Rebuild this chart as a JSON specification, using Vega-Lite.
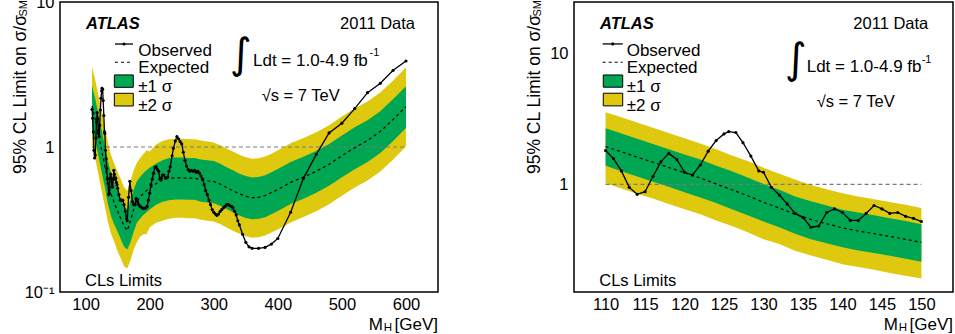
{
  "$schema": "https://vega.github.io/schema/vega-lite/v6.json",
  "padding": {"left": 11, "top": -7, "right": 0, "bottom": 0},
  "bounds": "flush",
  "spacing": 136,
  "config": {
    "view": {"stroke": "black", "strokeWidth": 1.5},
    "axis": {"grid": false, "domain": false, "labelFont": "Liberation Sans", "labelFontSize": 16.5, "labelColor": "black", "tickColor": "black", "tickWidth": 1, "labelOverlap": false, "title": null, "tickSize": 0},
    "text": {"font": "Liberation Sans", "color": "black"}
  },
  "datasets": {
    "bandL": [
      {"m": 110, "lo2": 1.02, "lo1": 1.36, "exp": 1.92, "up1": 2.65, "up2": 3.57},
      {"m": 115, "lo2": 0.83, "lo1": 1.11, "exp": 1.56, "up1": 2.15, "up2": 2.90},
      {"m": 120, "lo2": 0.65, "lo1": 0.87, "exp": 1.22, "up1": 1.68, "up2": 2.27},
      {"m": 125, "lo2": 0.50, "lo1": 0.67, "exp": 0.95, "up1": 1.31, "up2": 1.77},
      {"m": 130, "lo2": 0.39, "lo1": 0.53, "exp": 0.74, "up1": 1.02, "up2": 1.38},
      {"m": 135, "lo2": 0.30, "lo1": 0.40, "exp": 0.57, "up1": 0.79, "up2": 1.06},
      {"m": 140, "lo2": 0.25, "lo1": 0.33, "exp": 0.47, "up1": 0.65, "up2": 0.87},
      {"m": 145, "lo2": 0.22, "lo1": 0.29, "exp": 0.41, "up1": 0.57, "up2": 0.76},
      {"m": 150, "lo2": 0.19, "lo1": 0.26, "exp": 0.36, "up1": 0.50, "up2": 0.67},
      {"m": 155, "lo2": 0.17, "lo1": 0.23, "exp": 0.32, "up1": 0.44, "up2": 0.60},
      {"m": 160, "lo2": 0.15, "lo1": 0.205, "exp": 0.285, "up1": 0.39, "up2": 0.53},
      {"m": 165, "lo2": 0.145, "lo1": 0.196, "exp": 0.265, "up1": 0.37, "up2": 0.50},
      {"m": 170, "lo2": 0.165, "lo1": 0.22, "exp": 0.31, "up1": 0.43, "up2": 0.58},
      {"m": 175, "lo2": 0.196, "lo1": 0.26, "exp": 0.37, "up1": 0.51, "up2": 0.69},
      {"m": 180, "lo2": 0.22, "lo1": 0.30, "exp": 0.42, "up1": 0.58, "up2": 0.78},
      {"m": 185, "lo2": 0.24, "lo1": 0.32, "exp": 0.45, "up1": 0.62, "up2": 0.84},
      {"m": 190, "lo2": 0.25, "lo1": 0.34, "exp": 0.48, "up1": 0.66, "up2": 0.89},
      {"m": 195, "lo2": 0.25, "lo1": 0.355, "exp": 0.50, "up1": 0.69, "up2": 0.95},
      {"m": 200, "lo2": 0.28, "lo1": 0.37, "exp": 0.52, "up1": 0.72, "up2": 0.93},
      {"m": 210, "lo2": 0.30, "lo1": 0.40, "exp": 0.56, "up1": 0.77, "up2": 1.04},
      {"m": 220, "lo2": 0.31, "lo1": 0.42, "exp": 0.59, "up1": 0.81, "up2": 1.10},
      {"m": 230, "lo2": 0.32, "lo1": 0.43, "exp": 0.61, "up1": 0.84, "up2": 1.13},
      {"m": 240, "lo2": 0.325, "lo1": 0.435, "exp": 0.612, "up1": 0.845, "up2": 1.14},
      {"m": 250, "lo2": 0.325, "lo1": 0.435, "exp": 0.612, "up1": 0.845, "up2": 1.14},
      {"m": 260, "lo2": 0.323, "lo1": 0.433, "exp": 0.61, "up1": 0.84, "up2": 1.13},
      {"m": 270, "lo2": 0.323, "lo1": 0.433, "exp": 0.61, "up1": 0.84, "up2": 1.13},
      {"m": 280, "lo2": 0.315, "lo1": 0.42, "exp": 0.595, "up1": 0.82, "up2": 1.11},
      {"m": 290, "lo2": 0.31, "lo1": 0.415, "exp": 0.585, "up1": 0.81, "up2": 1.09},
      {"m": 300, "lo2": 0.306, "lo1": 0.41, "exp": 0.578, "up1": 0.80, "up2": 1.075},
      {"m": 310, "lo2": 0.294, "lo1": 0.394, "exp": 0.555, "up1": 0.766, "up2": 1.03},
      {"m": 320, "lo2": 0.278, "lo1": 0.373, "exp": 0.525, "up1": 0.725, "up2": 0.976},
      {"m": 330, "lo2": 0.265, "lo1": 0.355, "exp": 0.50, "up1": 0.69, "up2": 0.93},
      {"m": 340, "lo2": 0.252, "lo1": 0.337, "exp": 0.475, "up1": 0.655, "up2": 0.884},
      {"m": 350, "lo2": 0.242, "lo1": 0.324, "exp": 0.457, "up1": 0.63, "up2": 0.85},
      {"m": 360, "lo2": 0.237, "lo1": 0.317, "exp": 0.447, "up1": 0.617, "up2": 0.83},
      {"m": 370, "lo2": 0.239, "lo1": 0.32, "exp": 0.45, "up1": 0.62, "up2": 0.837},
      {"m": 380, "lo2": 0.245, "lo1": 0.328, "exp": 0.462, "up1": 0.638, "up2": 0.86},
      {"m": 390, "lo2": 0.257, "lo1": 0.344, "exp": 0.485, "up1": 0.669, "up2": 0.90},
      {"m": 400, "lo2": 0.27, "lo1": 0.362, "exp": 0.51, "up1": 0.704, "up2": 0.95},
      {"m": 420, "lo2": 0.302, "lo1": 0.405, "exp": 0.57, "up1": 0.787, "up2": 1.06},
      {"m": 440, "lo2": 0.329, "lo1": 0.44, "exp": 0.62, "up1": 0.856, "up2": 1.153},
      {"m": 460, "lo2": 0.36, "lo1": 0.483, "exp": 0.68, "up1": 0.938, "up2": 1.265},
      {"m": 480, "lo2": 0.403, "lo1": 0.54, "exp": 0.76, "up1": 1.05, "up2": 1.41},
      {"m": 500, "lo2": 0.461, "lo1": 0.618, "exp": 0.87, "up1": 1.20, "up2": 1.62},
      {"m": 520, "lo2": 0.525, "lo1": 0.703, "exp": 0.99, "up1": 1.366, "up2": 1.84},
      {"m": 540, "lo2": 0.588, "lo1": 0.788, "exp": 1.11, "up1": 1.53, "up2": 2.06},
      {"m": 560, "lo2": 0.678, "lo1": 0.909, "exp": 1.28, "up1": 1.766, "up2": 2.38},
      {"m": 580, "lo2": 0.82, "lo1": 1.10, "exp": 1.55, "up1": 2.14, "up2": 2.88},
      {"m": 600, "lo2": 1.007, "lo1": 1.35, "exp": 1.90, "up1": 2.62, "up2": 3.53}
    ],
    "obsL": [
      {"m": 110, "v": 1.82}, {"m": 111, "v": 1.58}, {"m": 112, "v": 1.27}, {"m": 113, "v": 0.95}, {"m": 114, "v": 0.84},
      {"m": 115, "v": 0.88}, {"m": 116, "v": 1.15}, {"m": 117, "v": 1.49}, {"m": 118, "v": 1.73}, {"m": 119, "v": 1.56},
      {"m": 120, "v": 1.24}, {"m": 121, "v": 1.18}, {"m": 122, "v": 1.41}, {"m": 123, "v": 1.80}, {"m": 124, "v": 2.17},
      {"m": 125, "v": 2.44}, {"m": 125.6, "v": 2.54}, {"m": 126.5, "v": 2.50}, {"m": 127.4, "v": 2.09}, {"m": 128.4, "v": 1.65},
      {"m": 129.4, "v": 1.27}, {"m": 130, "v": 1.24}, {"m": 131, "v": 0.95}, {"m": 132, "v": 0.83}, {"m": 133, "v": 0.71},
      {"m": 134, "v": 0.60}, {"m": 135, "v": 0.56}, {"m": 136, "v": 0.47}, {"m": 137, "v": 0.48}, {"m": 138, "v": 0.61},
      {"m": 139, "v": 0.65}, {"m": 140, "v": 0.61}, {"m": 141, "v": 0.53}, {"m": 142, "v": 0.53}, {"m": 143, "v": 0.60},
      {"m": 144, "v": 0.69}, {"m": 145, "v": 0.65}, {"m": 146, "v": 0.60}, {"m": 147, "v": 0.61}, {"m": 148, "v": 0.57},
      {"m": 149, "v": 0.55}, {"m": 150, "v": 0.52}, {"m": 152, "v": 0.47}, {"m": 154, "v": 0.43}, {"m": 156, "v": 0.43},
      {"m": 158, "v": 0.43}, {"m": 160, "v": 0.40}, {"m": 162, "v": 0.36}, {"m": 164, "v": 0.32}, {"m": 165, "v": 0.31},
      {"m": 167, "v": 0.45}, {"m": 169, "v": 0.58}, {"m": 171, "v": 0.50}, {"m": 173, "v": 0.42}, {"m": 175, "v": 0.40},
      {"m": 177, "v": 0.40}, {"m": 179, "v": 0.44}, {"m": 181, "v": 0.42}, {"m": 183, "v": 0.40}, {"m": 185, "v": 0.39},
      {"m": 188, "v": 0.38}, {"m": 191, "v": 0.377}, {"m": 194, "v": 0.38}, {"m": 196, "v": 0.39}, {"m": 198, "v": 0.43},
      {"m": 200, "v": 0.48}, {"m": 202, "v": 0.55}, {"m": 204, "v": 0.60}, {"m": 206, "v": 0.66}, {"m": 208, "v": 0.72},
      {"m": 210, "v": 0.73}, {"m": 212, "v": 0.70}, {"m": 214, "v": 0.68}, {"m": 216, "v": 0.60}, {"m": 218, "v": 0.61},
      {"m": 220, "v": 0.64}, {"m": 222, "v": 0.64}, {"m": 225, "v": 0.61}, {"m": 228, "v": 0.62}, {"m": 230, "v": 0.68},
      {"m": 232, "v": 0.73}, {"m": 235, "v": 0.87}, {"m": 237, "v": 0.98}, {"m": 240, "v": 1.10}, {"m": 242.5, "v": 1.18},
      {"m": 245, "v": 1.14}, {"m": 247.5, "v": 1.09}, {"m": 250, "v": 1.05}, {"m": 252.5, "v": 0.92}, {"m": 255, "v": 0.81},
      {"m": 257.5, "v": 0.74}, {"m": 260, "v": 0.70}, {"m": 262.5, "v": 0.68}, {"m": 265, "v": 0.69}, {"m": 267.5, "v": 0.68},
      {"m": 270, "v": 0.69}, {"m": 272.5, "v": 0.67}, {"m": 275, "v": 0.68}, {"m": 277.5, "v": 0.66}, {"m": 280, "v": 0.63},
      {"m": 282.5, "v": 0.60}, {"m": 285, "v": 0.55}, {"m": 287.5, "v": 0.50}, {"m": 290, "v": 0.47}, {"m": 292.5, "v": 0.43},
      {"m": 295, "v": 0.40}, {"m": 297.5, "v": 0.37}, {"m": 300, "v": 0.355}, {"m": 302.5, "v": 0.345}, {"m": 305, "v": 0.338},
      {"m": 307.5, "v": 0.345}, {"m": 310, "v": 0.36}, {"m": 312.5, "v": 0.37}, {"m": 315, "v": 0.38}, {"m": 317.5, "v": 0.39},
      {"m": 320, "v": 0.40}, {"m": 322.5, "v": 0.40}, {"m": 325, "v": 0.395}, {"m": 327.5, "v": 0.39}, {"m": 330, "v": 0.38},
      {"m": 332.5, "v": 0.36}, {"m": 335, "v": 0.34}, {"m": 337.5, "v": 0.31}, {"m": 340, "v": 0.29}, {"m": 345, "v": 0.25},
      {"m": 350, "v": 0.22}, {"m": 355, "v": 0.205}, {"m": 360, "v": 0.20}, {"m": 370, "v": 0.20}, {"m": 380, "v": 0.203},
      {"m": 390, "v": 0.214}, {"m": 400, "v": 0.234}, {"m": 420, "v": 0.355}, {"m": 440, "v": 0.608}, {"m": 460, "v": 0.89},
      {"m": 480, "v": 1.25}, {"m": 500, "v": 1.46}, {"m": 520, "v": 1.84}, {"m": 540, "v": 2.37}, {"m": 560, "v": 2.75},
      {"m": 580, "v": 3.38}, {"m": 600, "v": 3.92}
    ],
    "bandR": [
      {"m": 110, "lo2": 1.02, "lo1": 1.39, "exp": 1.95, "up1": 2.70, "up2": 3.58},
      {"m": 112, "lo2": 0.93, "lo1": 1.26, "exp": 1.78, "up1": 2.46, "up2": 3.27},
      {"m": 114, "lo2": 0.85, "lo1": 1.15, "exp": 1.62, "up1": 2.24, "up2": 2.98},
      {"m": 116, "lo2": 0.78, "lo1": 1.05, "exp": 1.48, "up1": 2.04, "up2": 2.72},
      {"m": 118, "lo2": 0.71, "lo1": 0.96, "exp": 1.35, "up1": 1.86, "up2": 2.48},
      {"m": 120, "lo2": 0.645, "lo1": 0.87, "exp": 1.23, "up1": 1.70, "up2": 2.26},
      {"m": 122, "lo2": 0.59, "lo1": 0.795, "exp": 1.12, "up1": 1.55, "up2": 2.06},
      {"m": 124, "lo2": 0.53, "lo1": 0.72, "exp": 1.01, "up1": 1.39, "up2": 1.86},
      {"m": 126, "lo2": 0.48, "lo1": 0.645, "exp": 0.91, "up1": 1.26, "up2": 1.67},
      {"m": 128, "lo2": 0.43, "lo1": 0.58, "exp": 0.82, "up1": 1.13, "up2": 1.51},
      {"m": 130, "lo2": 0.38, "lo1": 0.52, "exp": 0.73, "up1": 1.01, "up2": 1.34},
      {"m": 132, "lo2": 0.35, "lo1": 0.47, "exp": 0.66, "up1": 0.91, "up2": 1.21},
      {"m": 134, "lo2": 0.31, "lo1": 0.42, "exp": 0.59, "up1": 0.81, "up2": 1.09},
      {"m": 136, "lo2": 0.285, "lo1": 0.38, "exp": 0.54, "up1": 0.745, "up2": 0.99},
      {"m": 138, "lo2": 0.265, "lo1": 0.355, "exp": 0.50, "up1": 0.69, "up2": 0.92},
      {"m": 140, "lo2": 0.245, "lo1": 0.33, "exp": 0.465, "up1": 0.64, "up2": 0.855},
      {"m": 142, "lo2": 0.233, "lo1": 0.312, "exp": 0.44, "up1": 0.61, "up2": 0.81},
      {"m": 144, "lo2": 0.222, "lo1": 0.298, "exp": 0.42, "up1": 0.58, "up2": 0.77},
      {"m": 146, "lo2": 0.21, "lo1": 0.284, "exp": 0.40, "up1": 0.55, "up2": 0.735},
      {"m": 148, "lo2": 0.20, "lo1": 0.27, "exp": 0.38, "up1": 0.525, "up2": 0.70},
      {"m": 150, "lo2": 0.19, "lo1": 0.256, "exp": 0.36, "up1": 0.495, "up2": 0.66}
    ],
    "obsR": [
      {"m": 110, "v": 1.82}, {"m": 111, "v": 1.58}, {"m": 112, "v": 1.27}, {"m": 113, "v": 0.95}, {"m": 114, "v": 0.84},
      {"m": 115, "v": 0.88}, {"m": 116, "v": 1.15}, {"m": 117, "v": 1.49}, {"m": 118, "v": 1.73}, {"m": 119, "v": 1.56},
      {"m": 120, "v": 1.24}, {"m": 121, "v": 1.18}, {"m": 122, "v": 1.41}, {"m": 123, "v": 1.80}, {"m": 124, "v": 2.17},
      {"m": 125, "v": 2.44}, {"m": 125.6, "v": 2.54}, {"m": 126.5, "v": 2.50}, {"m": 127.4, "v": 2.09}, {"m": 128.4, "v": 1.65},
      {"m": 129.4, "v": 1.27}, {"m": 130, "v": 1.24}, {"m": 131, "v": 0.95}, {"m": 132, "v": 0.83}, {"m": 133, "v": 0.71},
      {"m": 134, "v": 0.60}, {"m": 135, "v": 0.56}, {"m": 136, "v": 0.47}, {"m": 137, "v": 0.48}, {"m": 138, "v": 0.61},
      {"m": 139, "v": 0.65}, {"m": 140, "v": 0.61}, {"m": 141, "v": 0.53}, {"m": 142, "v": 0.53}, {"m": 143, "v": 0.60},
      {"m": 144, "v": 0.69}, {"m": 145, "v": 0.65}, {"m": 146, "v": 0.60}, {"m": 147, "v": 0.61}, {"m": 148, "v": 0.57},
      {"m": 149, "v": 0.55}, {"m": 150, "v": 0.52}
    ]
  },
  "hconcat": [
    {
      "width": 378,
      "height": 290,
      "data": {"values": [{}]},
      "resolve": {"axis": {"x": "independent", "y": "independent"}},
      "layer": [
        {
          "data": {"name": "bandL"},
          "mark": {"type": "area", "color": "#dec90f"},
          "encoding": {
            "x": {"field": "m", "type": "quantitative", "scale": {"domain": [60, 650], "nice": false, "zero": false},
              "axis": {"orient": "bottom", "values": [60,80,100,120,140,160,180,200,220,240,260,280,300,320,340,360,380,400,420,440,460,480,500,520,540,560,580,600,620,640],
                "labelExpr": "datum.value % 100 === 0 ? datum.label : ''",
                "labelPadding": 4,
                "encode": {"ticks": {"update": {"y2": {"signal": "datum.value % 100 === 0 ? -9 : -4.5"}}}}}},
            "y": {"field": "lo2", "type": "quantitative", "scale": {"type": "log", "domain": [0.1, 10], "nice": false},
              "axis": {"orient": "left", "values": [0.1,0.2,0.3,0.4,0.5,0.6,0.7,0.8,0.9,1,2,3,4,5,6,7,8,9,10],
                "labelExpr": "datum.value === 0.1 ? '10⁻¹' : datum.value === 1 ? '1' : datum.value === 10 ? '10' : ''",
                "labelPadding": 6,
                "encode": {"ticks": {"update": {"x2": {"signal": "(datum.value === 0.1 || datum.value === 1 || datum.value === 10) ? 12 : 6.5"}}}}}},
            "y2": {"field": "up2"}
          }
        },
        {
          "data": {"name": "bandL"},
          "mark": {"type": "area", "color": "#00a651"},
          "encoding": {
            "x": {"field": "m", "type": "quantitative",
              "axis": {"orient": "top", "labels": false, "values": [60,80,100,120,140,160,180,200,220,240,260,280,300,320,340,360,380,400,420,440,460,480,500,520,540,560,580,600,620,640],
                "encode": {"ticks": {"update": {"y2": {"signal": "datum.value % 100 === 0 ? 9 : 4.5"}}}}}},
            "y": {"field": "lo1", "type": "quantitative",
              "axis": {"orient": "right", "labels": false, "values": [0.1,0.2,0.3,0.4,0.5,0.6,0.7,0.8,0.9,1,2,3,4,5,6,7,8,9,10],
                "encode": {"ticks": {"update": {"x2": {"signal": "(datum.value === 0.1 || datum.value === 1 || datum.value === 10) ? -12 : -6.5"}}}}}},
            "y2": {"field": "up1"}
          }
        },
        {
          "mark": {"type": "rule", "color": "#7a7a7a", "strokeDash": [4, 3], "strokeWidth": 1.2},
          "encoding": {"x": {"datum": 110, "type": "quantitative", "axis": null}, "x2": {"datum": 600}, "y": {"datum": 1, "type": "quantitative", "axis": null}}
        },
        {
          "data": {"name": "bandL"},
          "mark": {"type": "line", "color": "black", "strokeWidth": 1.2, "strokeDash": [3, 3]},
          "encoding": {"x": {"field": "m", "type": "quantitative", "axis": null}, "y": {"field": "exp", "type": "quantitative", "axis": null}}
        },
        {
          "data": {"name": "obsL"},
          "mark": {"type": "line", "color": "black", "strokeWidth": 1.3, "point": {"filled": true, "size": 10, "color": "black"}},
          "encoding": {"x": {"field": "m", "type": "quantitative", "axis": null}, "y": {"field": "v", "type": "quantitative", "axis": null}}
        },
        {
          "mark": {"type": "text", "text": "ATLAS", "align": "left", "fontSize": 16.5, "fontStyle": "italic", "fontWeight": "bold"},
          "encoding": {"x": {"datum": 100.6, "type": "quantitative", "axis": null}, "y": {"datum": 7.05, "type": "quantitative", "axis": null}}
        },
        {
          "mark": {"type": "text", "text": "2011 Data", "align": "right", "fontSize": 16.5},
          "encoding": {"x": {"datum": 614.1, "type": "quantitative", "axis": null}, "y": {"datum": 7.05, "type": "quantitative", "axis": null}}
        },
        {
          "mark": {"type": "rule", "color": "black", "strokeWidth": 1.3},
          "encoding": {"x": {"datum": 145.8, "type": "quantitative", "axis": null}, "x2": {"datum": 173.9}, "y": {"datum": 5.13, "type": "quantitative", "axis": null}}
        },
        {
          "mark": {"type": "point", "filled": true, "size": 10, "color": "black", "opacity": 1},
          "encoding": {"x": {"datum": 159.9, "type": "quantitative", "axis": null}, "y": {"datum": 5.13, "type": "quantitative", "axis": null}}
        },
        {
          "mark": {"type": "text", "text": "Observed", "align": "left", "fontSize": 17},
          "encoding": {"x": {"datum": 182.2, "type": "quantitative", "axis": null}, "y": {"datum": 4.62, "type": "quantitative", "axis": null}}
        },
        {
          "mark": {"type": "rule", "color": "black", "strokeWidth": 1.2, "strokeDash": [3, 3]},
          "encoding": {"x": {"datum": 145.8, "type": "quantitative", "axis": null}, "x2": {"datum": 173.9}, "y": {"datum": 3.84, "type": "quantitative", "axis": null}}
        },
        {
          "mark": {"type": "text", "text": "Expected", "align": "left", "fontSize": 17},
          "encoding": {"x": {"datum": 182.2, "type": "quantitative", "axis": null}, "y": {"datum": 3.49, "type": "quantitative", "axis": null}}
        },
        {
          "mark": {"type": "rect", "fill": "#00a651", "stroke": "black", "strokeWidth": 1},
          "encoding": {"x": {"datum": 144.8, "type": "quantitative", "axis": null}, "x2": {"datum": 174.4}, "y": {"datum": 2.58, "type": "quantitative", "axis": null}, "y2": {"datum": 3.14}}
        },
        {
          "mark": {"type": "text", "text": "±1 σ", "align": "left", "fontSize": 17},
          "encoding": {"x": {"datum": 182.2, "type": "quantitative", "axis": null}, "y": {"datum": 2.58, "type": "quantitative", "axis": null}}
        },
        {
          "mark": {"type": "rect", "fill": "#dec90f", "stroke": "black", "strokeWidth": 1},
          "encoding": {"x": {"datum": 144.8, "type": "quantitative", "axis": null}, "x2": {"datum": 174.4}, "y": {"datum": 1.918, "type": "quantitative", "axis": null}, "y2": {"datum": 2.346}}
        },
        {
          "mark": {"type": "text", "text": "±2 σ", "align": "left", "fontSize": 17},
          "encoding": {"x": {"datum": 182.2, "type": "quantitative", "axis": null}, "y": {"datum": 1.93, "type": "quantitative", "axis": null}}
        },
        {
          "mark": {"type": "text", "text": "∫", "align": "center", "fontSize": 42, "font": "DejaVu Sans"},
          "encoding": {"x": {"datum": 342.5, "type": "quantitative", "axis": null}, "y": {"datum": 4.34, "type": "quantitative", "axis": null}}
        },
        {
          "mark": {"type": "text", "text": "Ldt = 1.0-4.9 fb", "align": "left", "fontSize": 17},
          "encoding": {"x": {"datum": 361.2, "type": "quantitative", "axis": null}, "y": {"datum": 3.94, "type": "quantitative", "axis": null}}
        },
        {
          "mark": {"type": "text", "text": "-1", "align": "left", "fontSize": 11},
          "encoding": {"x": {"datum": 543.1, "type": "quantitative", "axis": null}, "y": {"datum": 4.45, "type": "quantitative", "axis": null}}
        },
        {
          "mark": {"type": "text", "text": "√s = 7 TeV", "align": "left", "fontSize": 16.5},
          "encoding": {"x": {"datum": 374.8, "type": "quantitative", "axis": null}, "y": {"datum": 2.247, "type": "quantitative", "axis": null}}
        },
        {
          "mark": {"type": "text", "text": "CLs Limits", "align": "left", "fontSize": 16.5},
          "encoding": {"x": {"datum": 99.0, "type": "quantitative", "axis": null}, "y": {"datum": 0.1197, "type": "quantitative", "axis": null}}
        },
        {
          "mark": {"type": "text", "text": "95% CL Limit on σ/σ", "angle": 270, "align": "right", "fontSize": 17.5, "dx": -13, "dy": -39},
          "encoding": {"x": {"datum": 60, "type": "quantitative", "axis": null}, "y": {"datum": 10, "type": "quantitative", "axis": null}}
        },
        {
          "mark": {"type": "text", "text": "SM", "angle": 270, "align": "right", "fontSize": 11, "dx": 2, "dy": -36},
          "encoding": {"x": {"datum": 60, "type": "quantitative", "axis": null}, "y": {"datum": 10, "type": "quantitative", "axis": null}}
        },
        {
          "mark": {"type": "text", "text": "[GeV]", "align": "right", "fontSize": 17, "dy": 33},
          "encoding": {"x": {"datum": 650, "type": "quantitative", "axis": null}, "y": {"datum": 0.1, "type": "quantitative", "axis": null}}
        },
        {
          "mark": {"type": "text", "text": "H", "align": "right", "fontSize": 11.5, "dx": -46, "dy": 36},
          "encoding": {"x": {"datum": 650, "type": "quantitative", "axis": null}, "y": {"datum": 0.1, "type": "quantitative", "axis": null}}
        },
        {
          "mark": {"type": "text", "text": "M", "align": "right", "fontSize": 17, "dx": -55, "dy": 33},
          "encoding": {"x": {"datum": 650, "type": "quantitative", "axis": null}, "y": {"datum": 0.1, "type": "quantitative", "axis": null}}
        }
      ]
    },
    {
      "width": 379,
      "height": 290,
      "data": {"values": [{}]},
      "resolve": {"axis": {"x": "independent", "y": "independent"}},
      "layer": [
        {
          "data": {"name": "bandR"},
          "mark": {"type": "area", "color": "#dec90f"},
          "encoding": {
            "x": {"field": "m", "type": "quantitative", "scale": {"domain": [106, 154], "nice": false, "zero": false},
              "axis": {"orient": "bottom", "values": [107,108,109,110,111,112,113,114,115,116,117,118,119,120,121,122,123,124,125,126,127,128,129,130,131,132,133,134,135,136,137,138,139,140,141,142,143,144,145,146,147,148,149,150,151,152,153],
                "labelExpr": "datum.value % 5 === 0 ? datum.label : ''",
                "labelPadding": 4,
                "encode": {"ticks": {"update": {"y2": {"signal": "datum.value % 5 === 0 ? -8 : -4"}}}}}},
            "y": {"field": "lo2", "type": "quantitative", "scale": {"type": "log", "domain": [0.15, 25], "nice": false},
              "axis": {"orient": "left", "values": [0.2,0.3,0.4,0.5,0.6,0.7,0.8,0.9,1,2,3,4,5,6,7,8,9,10,20],
                "labelExpr": "datum.value === 1 ? '1' : datum.value === 10 ? '10' : ''",
                "labelPadding": 6,
                "encode": {"ticks": {"update": {"x2": {"signal": "(datum.value === 1 || datum.value === 10) ? 12 : 6.5"}}}}}},
            "y2": {"field": "up2"}
          }
        },
        {
          "data": {"name": "bandR"},
          "mark": {"type": "area", "color": "#00a651"},
          "encoding": {
            "x": {"field": "m", "type": "quantitative",
              "axis": {"orient": "top", "labels": false, "values": [107,108,109,110,111,112,113,114,115,116,117,118,119,120,121,122,123,124,125,126,127,128,129,130,131,132,133,134,135,136,137,138,139,140,141,142,143,144,145,146,147,148,149,150,151,152,153],
                "encode": {"ticks": {"update": {"y2": {"signal": "datum.value % 5 === 0 ? 8 : 4"}}}}}},
            "y": {"field": "lo1", "type": "quantitative",
              "axis": {"orient": "right", "labels": false, "values": [0.2,0.3,0.4,0.5,0.6,0.7,0.8,0.9,1,2,3,4,5,6,7,8,9,10,20],
                "encode": {"ticks": {"update": {"x2": {"signal": "(datum.value === 1 || datum.value === 10) ? -12 : -6.5"}}}}}},
            "y2": {"field": "up1"}
          }
        },
        {
          "mark": {"type": "rule", "color": "#7a7a7a", "strokeDash": [4, 3], "strokeWidth": 1.2},
          "encoding": {"x": {"datum": 110, "type": "quantitative", "axis": null}, "x2": {"datum": 150}, "y": {"datum": 1, "type": "quantitative", "axis": null}}
        },
        {
          "data": {"name": "bandR"},
          "mark": {"type": "line", "color": "black", "strokeWidth": 1.2, "strokeDash": [3, 3]},
          "encoding": {"x": {"field": "m", "type": "quantitative", "axis": null}, "y": {"field": "exp", "type": "quantitative", "axis": null}}
        },
        {
          "data": {"name": "obsR"},
          "mark": {"type": "line", "color": "black", "strokeWidth": 1.3, "point": {"filled": true, "size": 10, "color": "black"}},
          "encoding": {"x": {"field": "m", "type": "quantitative", "axis": null}, "y": {"field": "v", "type": "quantitative", "axis": null}}
        },
        {
          "mark": {"type": "text", "text": "ATLAS", "align": "left", "fontSize": 16.5, "fontStyle": "italic", "fontWeight": "bold"},
          "encoding": {"x": {"datum": 109.29, "type": "quantitative", "axis": null}, "y": {"datum": 16.98, "type": "quantitative", "axis": null}}
        },
        {
          "mark": {"type": "text", "text": "2011 Data", "align": "right", "fontSize": 16.5},
          "encoding": {"x": {"datum": 150.87, "type": "quantitative", "axis": null}, "y": {"datum": 16.98, "type": "quantitative", "axis": null}}
        },
        {
          "mark": {"type": "rule", "color": "black", "strokeWidth": 1.3},
          "encoding": {"x": {"datum": 109.63, "type": "quantitative", "axis": null}, "x2": {"datum": 112.17}, "y": {"datum": 11.93, "type": "quantitative", "axis": null}}
        },
        {
          "mark": {"type": "point", "filled": true, "size": 10, "color": "black", "opacity": 1},
          "encoding": {"x": {"datum": 110.9, "type": "quantitative", "axis": null}, "y": {"datum": 11.93, "type": "quantitative", "axis": null}}
        },
        {
          "mark": {"type": "text", "text": "Observed", "align": "left", "fontSize": 17},
          "encoding": {"x": {"datum": 112.67, "type": "quantitative", "axis": null}, "y": {"datum": 10.6, "type": "quantitative", "axis": null}}
        },
        {
          "mark": {"type": "rule", "color": "black", "strokeWidth": 1.2, "strokeDash": [3, 3]},
          "encoding": {"x": {"datum": 109.63, "type": "quantitative", "axis": null}, "x2": {"datum": 112.17}, "y": {"datum": 8.64, "type": "quantitative", "axis": null}}
        },
        {
          "mark": {"type": "text", "text": "Expected", "align": "left", "fontSize": 17},
          "encoding": {"x": {"datum": 112.67, "type": "quantitative", "axis": null}, "y": {"datum": 7.77, "type": "quantitative", "axis": null}}
        },
        {
          "mark": {"type": "rect", "fill": "#00a651", "stroke": "black", "strokeWidth": 1},
          "encoding": {"x": {"datum": 109.71, "type": "quantitative", "axis": null}, "x2": {"datum": 112.17}, "y": {"datum": 5.56, "type": "quantitative", "axis": null}, "y2": {"datum": 6.9}}
        },
        {
          "mark": {"type": "text", "text": "±1 σ", "align": "left", "fontSize": 17},
          "encoding": {"x": {"datum": 112.67, "type": "quantitative", "axis": null}, "y": {"datum": 5.56, "type": "quantitative", "axis": null}}
        },
        {
          "mark": {"type": "rect", "fill": "#dec90f", "stroke": "black", "strokeWidth": 1},
          "encoding": {"x": {"datum": 109.71, "type": "quantitative", "axis": null}, "x2": {"datum": 112.17}, "y": {"datum": 4.0, "type": "quantitative", "axis": null}, "y2": {"datum": 5.0}}
        },
        {
          "mark": {"type": "text", "text": "±2 σ", "align": "left", "fontSize": 17},
          "encoding": {"x": {"datum": 112.67, "type": "quantitative", "axis": null}, "y": {"datum": 4.02, "type": "quantitative", "axis": null}}
        },
        {
          "mark": {"type": "text", "text": "∫", "align": "center", "fontSize": 42, "font": "DejaVu Sans"},
          "encoding": {"x": {"datum": 134.1, "type": "quantitative", "axis": null}, "y": {"datum": 8.92, "type": "quantitative", "axis": null}}
        },
        {
          "mark": {"type": "text", "text": "Ldt = 1.0-4.9 fb", "align": "left", "fontSize": 17},
          "encoding": {"x": {"datum": 135.47, "type": "quantitative", "axis": null}, "y": {"datum": 7.99, "type": "quantitative", "axis": null}}
        },
        {
          "mark": {"type": "text", "text": "-1", "align": "left", "fontSize": 11},
          "encoding": {"x": {"datum": 150.03, "type": "quantitative", "axis": null}, "y": {"datum": 8.99, "type": "quantitative", "axis": null}}
        },
        {
          "mark": {"type": "text", "text": "√s = 7 TeV", "align": "left", "fontSize": 16.5},
          "encoding": {"x": {"datum": 136.74, "type": "quantitative", "axis": null}, "y": {"datum": 4.31, "type": "quantitative", "axis": null}}
        },
        {
          "mark": {"type": "text", "text": "CLs Limits", "align": "left", "fontSize": 16.5},
          "encoding": {"x": {"datum": 109.2, "type": "quantitative", "axis": null}, "y": {"datum": 0.183, "type": "quantitative", "axis": null}}
        },
        {
          "mark": {"type": "text", "text": "95% CL Limit on σ/σ", "angle": 270, "align": "right", "fontSize": 17.5, "dx": -13, "dy": -39},
          "encoding": {"x": {"datum": 106, "type": "quantitative", "axis": null}, "y": {"datum": 25, "type": "quantitative", "axis": null}}
        },
        {
          "mark": {"type": "text", "text": "SM", "angle": 270, "align": "right", "fontSize": 11, "dx": 2, "dy": -36},
          "encoding": {"x": {"datum": 106, "type": "quantitative", "axis": null}, "y": {"datum": 25, "type": "quantitative", "axis": null}}
        },
        {
          "mark": {"type": "text", "text": "[GeV]", "align": "right", "fontSize": 17, "dy": 33},
          "encoding": {"x": {"datum": 154, "type": "quantitative", "axis": null}, "y": {"datum": 0.15, "type": "quantitative", "axis": null}}
        },
        {
          "mark": {"type": "text", "text": "H", "align": "right", "fontSize": 11.5, "dx": -46, "dy": 36},
          "encoding": {"x": {"datum": 154, "type": "quantitative", "axis": null}, "y": {"datum": 0.15, "type": "quantitative", "axis": null}}
        },
        {
          "mark": {"type": "text", "text": "M", "align": "right", "fontSize": 17, "dx": -55, "dy": 33},
          "encoding": {"x": {"datum": 154, "type": "quantitative", "axis": null}, "y": {"datum": 0.15, "type": "quantitative", "axis": null}}
        }
      ]
    }
  ]
}
